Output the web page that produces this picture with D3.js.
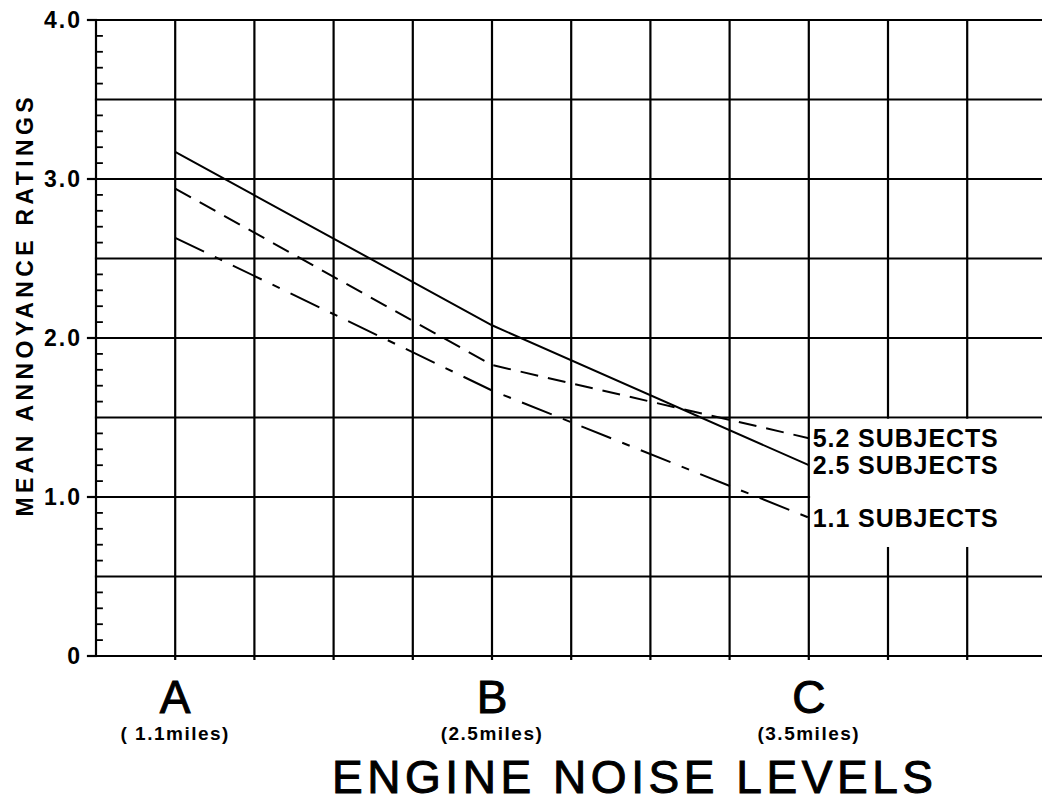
<!DOCTYPE html>
<html>
<head>
<meta charset="utf-8">
<script src="https://cdn.jsdelivr.net/npm/d3@7"></script>
<style>
	body { margin: 0; background: #fff; }
	svg { display: block; font-family: "Liberation Sans", Arial, sans-serif; }
</style>
</head>
<body>
<svg id="chart" width="1042" height="803"></svg>
<script>
////
// data
var categories = ["A", "B", "C"];
var categoryColumns = [1, 5, 9];
var distances = ["( 1.1miles)", "(2.5miles)", "(3.5miles)"];

var seriesNames = ["5.2 SUBJECTS", "2.5 SUBJECTS", "1.1 SUBJECTS"];
var values52 = [2.94, 1.83, 1.37];
var values25 = [3.17, 2.08, 1.20];
var values11 = [2.63, 1.67, 0.87];

var yTicks = [0, 1, 2, 3, 4];
var yTickLabels = ["0", "1.0", "2.0", "3.0", "4.0"];

////
var Config = {
	width: 1042,
	height: 803,
	plot: { left: 96, top: 20, bottom: 656, columnWidth: 79.2, columns: 12 },
	grid: { step: 0.5, minor: 0.1, stroke: 2.2 },
	labelGap: { top: 1.5, bottom: 0.68 },
	dashes: ["18,10", null, "32,12,8,12"]
};

var svg = d3.select("#chart");
var P = Config.plot;

var x = d3.scaleLinear()
	.domain([0, P.columns])
	.range([P.left, P.left + P.columns * P.columnWidth]);

var y = d3.scaleLinear()
	.domain([0, 4])
	.range([P.bottom, P.top]);

var xRight = Config.width;
var lastCol = categoryColumns[categoryColumns.length - 1];

////
// grid
var grid = svg.append("g")
	.attr("stroke", "#000")
	.attr("stroke-width", Config.grid.stroke)
	.attr("stroke-linecap", "square");

var hLevels = d3.range(0, 4 + 0.001, Config.grid.step);
grid.selectAll("line.h").data(hLevels).enter().append("line")
	.attr("class", "h")
	.attr("x1", P.left)
	.attr("x2", xRight)
	.attr("y1", function(d){ return y(d); })
	.attr("y2", function(d){ return y(d); });

var vCols = d3.range(0, P.columns + 1);
grid.selectAll("line.v").data(vCols).enter().append("line")
	.attr("class", "v")
	.attr("x1", function(d){ return x(d); })
	.attr("x2", function(d){ return x(d); })
	.attr("y1", y(4))
	.attr("y2", function(d){ return d === 0 ? y(0) : y(0) + 3; });

// tick marks on the left axis
var minorTicks = d3.range(0, 4.001, Config.grid.minor).filter(function(d){
	return Math.abs(d / Config.grid.step - Math.round(d / Config.grid.step)) > 0.01;
});
grid.selectAll("line.minor").data(minorTicks).enter().append("line")
	.attr("class", "minor")
	.attr("stroke-width", 1.8)
	.attr("x1", P.left)
	.attr("x2", P.left + 6)
	.attr("y1", function(d){ return y(d); })
	.attr("y2", function(d){ return y(d); });

grid.selectAll("line.major").data(yTicks).enter().append("line")
	.attr("class", "major")
	.attr("x1", P.left - 8)
	.attr("x2", P.left)
	.attr("y1", function(d){ return y(d); })
	.attr("y2", function(d){ return y(d); });

// blank area behind the series labels
svg.append("rect")
	.attr("x", x(lastCol) + Config.grid.stroke / 2 + 0.2)
	.attr("y", y(Config.labelGap.top) + Config.grid.stroke / 2 + 0.2)
	.attr("width", xRight - x(lastCol))
	.attr("height", y(Config.labelGap.bottom) - y(Config.labelGap.top) - Config.grid.stroke)
	.attr("fill", "#fff");

////
// series
var series = [values52, values25, values11];
var line = d3.line()
	.x(function(d, i){ return x(categoryColumns[i]); })
	.y(function(d){ return y(d); });

svg.selectAll("path.series").data(series).enter().append("path")
	.attr("class", "series")
	.attr("d", line)
	.attr("fill", "none")
	.attr("stroke", "#000")
	.attr("stroke-width", 2)
	.attr("stroke-dasharray", function(d, i){ return Config.dashes[i]; });

svg.selectAll("text.series").data(series).enter().append("text")
	.attr("class", "series")
	.attr("x", x(lastCol) + 4)
	.attr("y", function(d){ return y(d[d.length - 1]) + 9; })
	.attr("font-size", 25)
	.attr("font-weight", "bold")
	.attr("textLength", 185)
	.attr("lengthAdjust", "spacing")
	.text(function(d, i){ return seriesNames[i]; });

////
// axis labels
svg.selectAll("text.ytick").data(yTicks).enter().append("text")
	.attr("class", "ytick")
	.attr("x", P.left - 14)
	.attr("y", function(d){ return y(d) + 8; })
	.attr("text-anchor", "end")
	.attr("font-size", 23)
	.attr("font-weight", "bold")
	.attr("letter-spacing", 2)
	.text(function(d, i){ return yTickLabels[i]; });

svg.append("text")
	.attr("transform", "translate(33," + 307 + ") rotate(-90)")
	.attr("text-anchor", "middle")
	.attr("font-size", 23)
	.attr("font-weight", "bold")
	.attr("textLength", 419)
	.attr("lengthAdjust", "spacing")
	.text("MEAN ANNOYANCE RATINGS");

svg.selectAll("text.cat").data(categories).enter().append("text")
	.attr("class", "cat")
	.attr("x", function(d, i){ return x(categoryColumns[i]); })
	.attr("y", 713)
	.attr("text-anchor", "middle")
	.attr("font-size", 46)
	.attr("stroke", "#000")
	.attr("stroke-width", 1)
	.text(function(d){ return d; });

svg.selectAll("text.dist").data(distances).enter().append("text")
	.attr("class", "dist")
	.attr("x", function(d, i){ return x(categoryColumns[i]); })
	.attr("y", 740)
	.attr("text-anchor", "middle")
	.attr("font-size", 19)
	.attr("font-weight", "bold")
	.attr("letter-spacing", 1.5)
	.text(function(d){ return d; });

svg.append("text")
	.attr("x", 332)
	.attr("y", 793)
	.attr("font-size", 46)
	.attr("stroke", "#000")
	.attr("stroke-width", 1)
	.attr("textLength", 601)
	.attr("lengthAdjust", "spacing")
	.text("ENGINE NOISE LEVELS");
</script>
</body>
</html>
